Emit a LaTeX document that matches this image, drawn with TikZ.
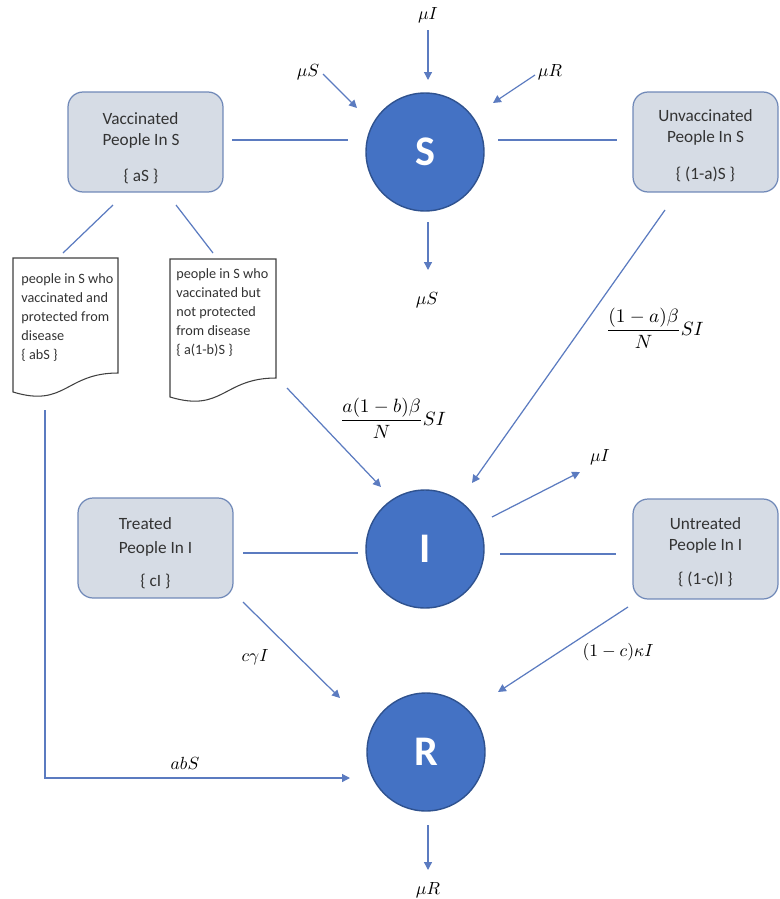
\documentclass[tikz,border=0pt]{standalone}
\usepackage{amsmath}
\usepackage{fontspec}
\setmainfont{Carlito}
\usetikzlibrary{arrows.meta}
\definecolor{circfill}{HTML}{4472C4}
\definecolor{circline}{HTML}{2F528F}
\definecolor{boxfill}{HTML}{D6DCE5}
\definecolor{boxline}{HTML}{7089B8}
\definecolor{conn}{HTML}{5B7BC0}
\definecolor{txt}{HTML}{333333}
\tikzset{
  comp/.style={circle, fill=circfill, draw=circline, line width=0.8pt, minimum size=2.36cm, inner sep=0pt,
    text=white, font=\fontsize{24}{26}\selectfont\bfseries},
  subbox/.style={rounded corners=0.3cm, fill=boxfill, draw=boxline, line width=0.7pt, minimum height=2cm},
  boxtext/.style={align=center, inner sep=0pt, text=txt, font=\fontsize{9.8}{12}\selectfont},
  doctext/.style={align=left, anchor=north west, inner sep=0pt, text=txt, font=\fontsize{8.1}{10.8}\selectfont},
  docline/.style={draw=black!75, line width=0.6pt, fill=white},
  link/.style={draw=conn, line width=0.7pt},
  flow/.style={link, -{Triangle[width=4.5pt,length=4.5pt]}},
  lab/.style={inner sep=0pt, font=\fontsize{9.8}{11}\selectfont},
  fraclab/.style={inner sep=0pt, font=\fontsize{10.8}{12}\selectfont}
}
\begin{document}
\begin{tikzpicture}[x=0.02cm,y=-0.02cm]
\useasboundingbox (0,0) rectangle (780,899);
% compartments
\node[comp] (S) at (425,152) {S};
\node[comp] (I) at (425,549) {I};
\node[comp] (R) at (426,752) {R};
% boxes
\node[subbox, minimum width=3.1cm] (vacc) at (145.5,142) {};
\node[subbox, minimum width=2.9cm] (unvacc) at (705.5,142) {};
\node[subbox, minimum width=3.1cm] (treat) at (155.5,548) {};
\node[subbox, minimum width=2.9cm] (untreat) at (705.5,549) {};
\node[boxtext] (vaccT) at (141,147) {\begin{tabular}{@{}l@{}}Vaccinated\\People In S\end{tabular}\\[9pt]\{ aS \}};
\node[boxtext] (unvaccT) at (705.5,146) {Unvaccinated\\People In S\\[9pt]\{ (1-a)S \}};
\node[boxtext] (treatT) at (155.5,552) {\begin{tabular}{@{}l@{}}Treated\\[1.5pt]People In I\end{tabular}\\[7pt]\{ cI \}};
\node[boxtext] (untreatT) at (705.5,552) {Untreated\\People In I\\[7pt]\{ (1-c)I \}};
% documents
\draw[docline] (13,258) -- (118,258) -- (118,373)
  .. controls (65.5,373) and (65.5,408) .. (13,392) -- cycle;
\draw[docline] (170,259) -- (276,259) -- (276,378)
  .. controls (223,378) and (223,413) .. (170,397) -- cycle;
\node[doctext] (docLt) at (21,273) {people in S who\\vaccinated and\\protected from\\disease\\\{ abS \}};
\node[doctext] (docRt) at (176,268) {people in S who\\vaccinated but\\not protected\\from disease\\\{ a(1-b)S \}};
% coordinates of free ends
\coordinate (muIa) at (428,30);   \coordinate (muIb) at (428,80);
\coordinate (muSa) at (323,74);   \coordinate (muSb) at (357,108);
\coordinate (muRa) at (535,75);   \coordinate (muRb) at (493,103);
\coordinate (muSoa) at (428,222); \coordinate (muSob) at (428,270);
\coordinate (vsA) at (232,140);   \coordinate (vsB) at (348,140);
\coordinate (suA) at (498,140);   \coordinate (suB) at (617,140);
\coordinate (vdLa) at (113,205);  \coordinate (vdLb) at (63,253);
\coordinate (vdRa) at (176,205);  \coordinate (vdRb) at (213,253);
\coordinate (dRIa) at (287,388);  \coordinate (dRIb) at (381,487);
\coordinate (uIa) at (665,210);   \coordinate (uIb) at (472,483);
\coordinate (muIoa) at (492,517); \coordinate (muIob) at (580,472);
\coordinate (tIa) at (243,553);   \coordinate (tIb) at (358,553);
\coordinate (iuA) at (500,554);   \coordinate (iuB) at (616,554);
\coordinate (tRa) at (243,602);   \coordinate (tRb) at (340,698);
\coordinate (uRa) at (628,607);   \coordinate (uRb) at (498,692);
\coordinate (dLa) at (45,410);    \coordinate (dLc) at (45,778); \coordinate (dLb) at (350,778);
\coordinate (muRoa) at (428,825); \coordinate (muRob) at (428,870);
% connectors
\draw[flow] (muIa) -- (muIb);
\draw[flow] (muSa) -- (muSb);
\draw[flow] (muRa) -- (muRb);
\draw[flow] (muSoa) -- (muSob);
\draw[link] (vsA) -- (vsB);
\draw[link] (suA) -- (suB);
\draw[link] (vdLa) -- (vdLb);
\draw[link] (vdRa) -- (vdRb);
\draw[flow] (dRIa) -- (dRIb);
\draw[flow] (uIa) -- (uIb);
\draw[flow] (muIoa) -- (muIob);
\draw[link] (tIa) -- (tIb);
\draw[link] (iuA) -- (iuB);
\draw[flow] (tRa) -- (tRb);
\draw[flow] (uRa) -- (uRb);
\draw[flow] (dLa) -- (dLc) -- (dLb);
\draw[flow] (muRoa) -- (muRob);
% labels
\node[lab] (lmuI) at (428,15) {$\mu I$};
\node[lab] (lmuS) at (308,72) {$\mu S$};
\node[lab] (lmuR) at (550,72) {$\mu R$};
\node[lab] (lmuSo) at (427,300) {$\mu S$};
\node[fraclab] (lab1) at (393,418) {$\dfrac{a(1-b)\beta}{N}SI$};
\node[fraclab] (lab2) at (655,328) {$\dfrac{(1-a)\beta}{N}SI$};
\node[lab] (lmuIo) at (600,457) {$\mu I$};
\node[lab] (lcg) at (255,657) {$c\gamma I$};
\node[lab] (lck) at (618,652) {$(1-c)\kappa I$};
\node[lab] (labS) at (185,763) {$abS$};
\node[lab] (lmuRo) at (428,890) {$\mu R$};
\end{tikzpicture}
\end{document}
